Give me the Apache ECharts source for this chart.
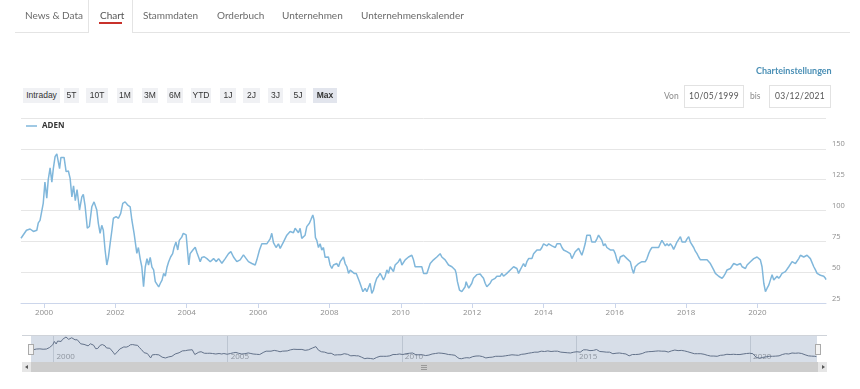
<!DOCTYPE html>
<html>
<head>
<meta charset="utf-8">
<script src="https://cdn.jsdelivr.net/npm/echarts@6/dist/echarts.min.js"></script>
<style>
  html,body{margin:0;padding:0;background:#fff;}
  #wrap{position:relative;width:860px;height:389px;overflow:hidden;}
  #c{position:absolute;left:0;top:0;width:860px;height:389px;}
  .abs{position:absolute;white-space:nowrap;z-index:5;}
  .tab{font-family:Lato,'Open Sans',sans-serif;font-size:10px;color:#6a6a6a;line-height:12px;top:9px;}
  .btn{font-family:'Liberation Sans',Arial,sans-serif;font-size:8.5px;color:#333;background:#f0f1f4;height:15px;line-height:15px;top:88px;text-align:center;}
  .lbl{font-family:Lato,'Open Sans',sans-serif;font-size:8.5px;color:#8a8a8a;line-height:10px;}
  .inp{border:1px solid #e2e2e2;height:21px;top:85px;font-family:Lato,'Open Sans',sans-serif;font-size:8.5px;color:#555;line-height:21px;text-align:center;letter-spacing:0.3px;background:#fff;}
</style>
</head>
<body>
<div id="wrap">
  <div id="c"></div>

  <!-- tabs -->
  <div class="abs" style="left:15px;top:32px;width:835px;height:1px;background:#e4e4e4;"></div>
  <div class="abs" style="left:88px;top:0;width:43px;height:33px;border-left:1px solid #e4e4e4;border-right:1px solid #e4e4e4;background:#fff;"></div>
  <div class="abs tab" style="left:25px;">News &amp; Data</div>
  <div class="abs tab" style="left:100px;color:#555;">Chart</div>
  <div class="abs" style="left:99px;top:22px;width:23px;height:2px;background:#c8312b;"></div>
  <div class="abs tab" style="left:143px;">Stammdaten</div>
  <div class="abs tab" style="left:217px;">Orderbuch</div>
  <div class="abs tab" style="left:282px;">Unternehmen</div>
  <div class="abs tab" style="left:361px;">Unternehmenskalender</div>

  <!-- range buttons -->
  <div class="abs btn" style="left:23px;width:37px;">Intraday</div>
  <div class="abs btn" style="left:64px;width:15px;">5T</div>
  <div class="abs btn" style="left:86px;width:22px;">10T</div>
  <div class="abs btn" style="left:117px;width:16px;">1M</div>
  <div class="abs btn" style="left:142px;width:16px;">3M</div>
  <div class="abs btn" style="left:167px;width:16px;">6M</div>
  <div class="abs btn" style="left:191px;width:20px;">YTD</div>
  <div class="abs btn" style="left:220px;width:16px;">1J</div>
  <div class="abs btn" style="left:243px;width:17px;">2J</div>
  <div class="abs btn" style="left:268px;width:15px;">3J</div>
  <div class="abs btn" style="left:290px;width:16px;">5J</div>
  <div class="abs btn" style="left:313px;width:24px;background:#e2e5ed;font-weight:bold;">Max</div>

  <!-- settings / dates -->
  <div class="abs" style="left:756px;top:65px;font-family:Lato,'Open Sans',sans-serif;font-size:9px;font-weight:bold;color:#4a8fb5;line-height:12px;">Charteinstellungen</div>
  <div class="abs lbl" style="left:664px;top:91px;">Von</div>
  <div class="abs inp" style="left:684px;width:58px;">10/05/1999</div>
  <div class="abs lbl" style="left:750px;top:91px;">bis</div>
  <div class="abs inp" style="left:769px;width:60px;">03/12/2021</div>

  <!-- navigator decorations -->
  <div class="abs" style="left:22px;top:335px;width:805px;height:1px;background:#cfd3d9;z-index:1;"></div>
  <div class="abs" style="left:28px;top:344px;width:4px;height:9px;background:#f4f4f4;border:1px solid #aaa;"></div>
  <div class="abs" style="left:815px;top:344px;width:4px;height:9px;background:#f4f4f4;border:1px solid #aaa;"></div>
  <div class="abs" style="left:22px;top:362px;width:805px;height:10px;background:#cdcdcd;"></div>
  <div class="abs" style="left:22px;top:362px;width:9px;height:10px;background:#e6e6e6;"></div>
  <div class="abs" style="left:818px;top:362px;width:9px;height:10px;background:#e6e6e6;"></div>
  <div class="abs" style="left:25px;top:365px;width:0;height:0;border-top:2px solid transparent;border-bottom:2px solid transparent;border-right:3px solid #555;"></div>
  <div class="abs" style="left:822px;top:365px;width:0;height:0;border-top:2px solid transparent;border-bottom:2px solid transparent;border-left:3px solid #555;"></div>
  <div class="abs" style="left:421px;top:365px;width:6px;height:1px;background:#999;"></div>
  <div class="abs" style="left:421px;top:367px;width:6px;height:1px;background:#999;"></div>
  <div class="abs" style="left:421px;top:369px;width:6px;height:1px;background:#999;"></div>
</div>

<script>
// ---- data ----
const seriesName = 'ADEN';
const dates = [
'1999-05-10','1999-07-05','1999-08-11','1999-09-14','1999-10-19','1999-11-03','1999-11-21','1999-12-24',
'2000-01-10','2000-01-29','2000-02-13','2000-03-03','2000-03-21','2000-04-05','2000-04-23','2000-05-11','2000-06-08','2000-06-22','2000-07-10','2000-07-24','2000-08-14','2000-09-06','2000-09-24','2000-10-12','2000-10-29','2000-11-16','2000-12-04','2000-12-29',
'2001-01-22','2001-02-06','2001-02-24','2001-03-19','2001-04-09','2001-05-04','2001-05-27','2001-06-24','2001-07-10','2001-07-28','2001-08-14','2001-08-30','2001-09-17','2001-10-05','2001-10-21','2001-11-08','2001-11-26','2001-12-11',
'2002-01-08','2002-02-01','2002-02-24','2002-03-17','2002-04-10','2002-05-04','2002-06-01','2002-06-18','2002-07-11','2002-08-08','2002-08-24','2002-09-11','2002-09-28','2002-10-16','2002-11-02','2002-11-20','2002-12-06','2002-12-23',
'2003-01-10','2003-01-27','2003-02-13','2003-03-03','2003-03-20','2003-04-06','2003-04-23','2003-05-10','2003-05-27','2003-06-13','2003-06-30','2003-07-20','2003-08-10','2003-08-24','2003-09-13','2003-10-01','2003-10-17','2003-11-11','2003-11-27','2003-12-26',
'2004-01-12','2004-01-22','2004-02-05','2004-03-04','2004-03-28','2004-04-14','2004-05-01','2004-05-18','2004-06-04','2004-06-28','2004-07-26','2004-08-29','2004-10-02','2004-10-30','2004-11-22','2004-12-26',
'2005-01-29','2005-03-04','2005-03-28','2005-04-24','2005-05-28','2005-07-01','2005-08-04','2005-09-01','2005-09-24','2005-10-29','2005-12-02','2005-12-19',
'2006-01-15','2006-02-08','2006-02-25','2006-03-31','2006-05-04','2006-05-21','2006-06-07','2006-07-04','2006-07-28','2006-08-15','2006-09-17','2006-10-22','2006-11-25','2006-12-29',
'2007-01-15','2007-02-18','2007-03-07','2007-03-24','2007-04-27','2007-05-14','2007-06-10','2007-06-24','2007-07-15','2007-07-28','2007-08-11','2007-08-25','2007-09-11','2007-09-28','2007-10-15','2007-11-01','2007-11-18','2007-12-05','2007-12-22',
'2008-01-08','2008-01-26','2008-02-11','2008-02-28','2008-03-17','2008-04-03','2008-04-20','2008-05-07','2008-05-24','2008-06-10','2008-06-28','2008-07-15','2008-08-01','2008-08-18','2008-09-11','2008-10-02','2008-10-19','2008-11-04','2008-11-22','2008-12-09',
'2009-01-01','2009-01-18','2009-02-04','2009-02-21','2009-03-10','2009-03-27','2009-04-13','2009-04-30','2009-05-17','2009-06-03','2009-06-20','2009-07-07','2009-07-25','2009-08-11','2009-08-28','2009-09-14','2009-10-01','2009-10-18','2009-11-04','2009-11-21','2009-12-08','2009-12-26',
'2010-01-12','2010-01-29','2010-02-15','2010-03-04','2010-03-21','2010-04-07','2010-04-24','2010-05-11','2010-05-28','2010-06-14','2010-07-01','2010-07-18','2010-08-04','2010-08-22','2010-09-08','2010-09-25','2010-10-12','2010-10-29','2010-11-15','2010-12-02','2010-12-19',
'2011-01-05','2011-01-22','2011-02-08','2011-02-25','2011-03-14','2011-03-31','2011-04-18','2011-05-05','2011-05-22','2011-06-08','2011-06-25','2011-07-12','2011-07-22','2011-08-04','2011-08-25','2011-09-18','2011-10-05','2011-10-22','2011-11-01','2011-11-14','2011-11-28','2011-12-12','2011-12-29',
'2012-01-15','2012-02-18','2012-03-24','2012-04-10','2012-04-27','2012-05-14','2012-05-31','2012-06-17','2012-07-04','2012-07-21','2012-08-07','2012-08-24','2012-09-11','2012-09-28','2012-10-15','2012-11-01','2012-11-18','2012-12-05','2012-12-22',
'2013-01-08','2013-01-26','2013-02-12','2013-03-01','2013-03-18','2013-04-04','2013-04-21','2013-05-08','2013-05-25','2013-06-11','2013-06-28','2013-07-15','2013-08-02','2013-08-19','2013-09-05','2013-09-22','2013-10-09','2013-10-26','2013-11-12','2013-11-29','2013-12-16',
'2014-01-02','2014-01-20','2014-02-06','2014-02-23','2014-03-12','2014-03-29','2014-04-15','2014-05-02','2014-05-19','2014-06-06','2014-06-22','2014-07-09','2014-07-26','2014-08-12','2014-08-29','2014-09-15','2014-10-02','2014-10-19','2014-11-05','2014-11-22','2014-12-10','2014-12-27',
'2015-01-12','2015-01-29','2015-02-15','2015-03-04','2015-03-21','2015-04-07','2015-04-24','2015-05-11','2015-05-28','2015-06-15','2015-07-02','2015-07-19','2015-08-05','2015-08-22','2015-09-08','2015-09-25','2015-10-12','2015-10-29','2015-11-16','2015-12-03','2015-12-20',
'2016-01-06','2016-01-23','2016-02-09','2016-02-26','2016-03-14','2016-03-31','2016-04-17','2016-05-05','2016-05-22','2016-06-08','2016-06-25','2016-07-12','2016-07-29','2016-08-15','2016-09-01','2016-09-18','2016-10-05','2016-10-22','2016-11-09','2016-11-26','2016-12-13','2016-12-30',
'2017-01-16','2017-02-02','2017-02-19','2017-03-08','2017-03-25','2017-04-11','2017-04-28','2017-05-15','2017-06-02','2017-06-19','2017-07-06','2017-07-23','2017-08-09','2017-08-26','2017-09-12','2017-09-29','2017-10-16','2017-11-03','2017-11-20','2017-12-07','2017-12-24',
'2018-01-10','2018-01-27','2018-02-13','2018-03-02','2018-03-19','2018-04-05','2018-04-22','2018-05-09','2018-05-27','2018-06-13','2018-06-30','2018-07-17','2018-08-03','2018-08-20','2018-09-06','2018-09-23','2018-10-10','2018-10-27','2018-11-13','2018-11-30','2018-12-17',
'2019-01-04','2019-01-21','2019-02-07','2019-02-24','2019-03-13','2019-03-30','2019-04-16','2019-05-03','2019-05-20','2019-06-06','2019-06-23','2019-07-11','2019-07-28','2019-08-14','2019-08-31','2019-09-17','2019-10-04','2019-10-21','2019-11-07','2019-11-24','2019-12-11','2019-12-28',
'2020-01-14','2020-01-31','2020-02-17','2020-03-06','2020-03-23','2020-04-09','2020-04-26','2020-05-13','2020-05-30','2020-06-16','2020-07-03','2020-07-20','2020-08-06','2020-08-23','2020-09-09','2020-09-26','2020-10-13','2020-10-31','2020-11-17','2020-12-04','2020-12-21',
'2021-01-07','2021-01-24','2021-02-10','2021-02-27','2021-03-16','2021-04-02','2021-04-19','2021-05-06','2021-05-23','2021-06-09','2021-06-26','2021-07-13','2021-07-31','2021-08-17','2021-09-03','2021-09-20','2021-10-07','2021-10-24','2021-11-10','2021-11-27','2021-12-03'
];
const prices = [
77.5,84,85,83,84,90,92,106,
123,110,125,134.5,123,134,143.6,146,134,143,142,143,131.5,132,126,111,120,108,117,100.4,
111,113,104,85.6,87,103,107,100.4,89.6,81.5,88,84,68,55.8,62,73.4,84,93.7,
95,93.7,97.7,105.8,107,104.6,103,92.3,81.5,65.3,70,61,54.4,38.2,54,61,55.8,62,
54,51.8,42.3,41,38,41,43.6,49,46.7,54,58.5,62.3,65,70,74.4,68,75.8,78.4,81.5,80.3,
81.5,55.8,65,68,70.2,66,62.3,58.5,62,62.5,61,58.5,61,58.5,61,57.2,
61,65,66.6,62.3,58.5,60,64,61,58.5,57,55.8,60,
68,73,74.4,73,77,81.5,74,70,73,69.3,74.4,80,83,82,
85.6,82,85.6,77.4,80,86.9,89.6,92.3,96.4,92.3,78,75.8,70,73,68,70,62,61,62.3,
55.8,53,55.8,54.4,57,54.4,58.5,60,62.3,57,54.4,49,51.7,50.4,49,49,48,42.3,38.2,34.2,
36.9,34.2,35.5,41,32.8,35.5,41,45,46.7,49,46.7,43.6,46.7,51.8,49,54.4,55.8,50.5,55.8,54.4,58.5,61,
55.8,54.4,60,58.5,62.3,62.3,63.7,60,54.4,55.8,54.4,55.8,54.4,49,50.4,49,53,57,58.5,60,61,
62.3,63.7,65,62.3,62.3,60,58.5,55.8,57,54.4,53,51.8,49,42.3,35.5,34.2,35.5,38.2,42.3,39.5,37,38.2,41,
45,48,48.5,46.7,45,41,38.2,39.5,41,43.6,42.3,45,46.7,48,46.7,49,46.7,46.7,49,
50.4,51.8,53,54.4,54.4,53,49,51.8,54.4,57,54.4,58.5,61,62.3,61,65,66.6,68,69.3,68,70,
73,74.4,71.3,73,74.4,71.3,71.3,70,73,74.4,73,70,68,69.3,66.6,68,65,61,63.7,66.6,68,69.3,
70,63.7,68,73,80,81.5,80,74.4,75.8,74.4,77,80,81.5,75.8,71.3,73,70,71.3,68,69.3,68,
65,60,57,62.3,61,63.7,65,61,60,58.5,53,49,54.4,55.8,57,55.8,58.5,57,58.5,61,65,68,
70,70.5,70,71.3,70,73,75.8,74.4,71.3,73,71.3,73,71.3,68.5,71.3,74.4,75.8,78.8,74.4,75.8,74.4,
77,78.8,74.4,73,70,67,65,62.3,60,58.5,60,58.5,60,58.5,57,55.8,51.8,49,48,46.7,48,
45,46.7,49,51.8,51.8,53,52.5,57,58.5,55.8,54.4,57,54.4,55.8,53,55.8,57,58.5,60,61,62.3,62.3,
61,60,54.4,41,34.2,37,39.5,41,48,43.6,45,46.7,45,46.7,49,47.5,50.4,49,54.4,55.8,58.5,
60,57,58.5,61,63.7,65,62.3,62.3,63.7,62.3,61,61,54.4,51.8,49,49,47.5,47.5,46.7,45,44
];
const yTicks = [25, 50, 75, 100, 125, 150, 175];
const xTickYears = [2000, 2002, 2004, 2006, 2008, 2010, 2012, 2014, 2016, 2018, 2020];
const navTickYears = [2000, 2005, 2010, 2015, 2020];

// ---- chart ----
const chart = echarts.init(document.getElementById('c'), null, {renderer: 'canvas'});
const toMs = s => { const p = s.split('-').map(Number); return Date.UTC(p[0], p[1] - 1, p[2]); };
const seriesData = dates.map((d, i) => [toMs(d), prices[i]]);
const yearTs = y => Date.UTC(y, 0, 1);
const xTicks = xTickYears.map(yearTs);
const navTicks = navTickYears.map(yearTs);
const yearFmt = v => String(new Date(v).getUTCFullYear());
const xMin = toMs(dates[0]);
const xMax = toMs(dates[dates.length - 1]);
const FONT = "'Open Sans', sans-serif";

chart.setOption({
  animation: false,
  backgroundColor: 'transparent',
  textStyle: {fontFamily: FONT},
  legend: {
    show: true, left: 26, top: 122, padding: 0, itemGap: 10, itemWidth: 11, itemHeight: 1.5,
    icon: 'rect', itemStyle: {color: '#80b7db'},
    textStyle: {fontFamily: FONT, fontSize: 8, fontWeight: 'bold', color: '#333'},
    data: [seriesName]
  },
  grid: [
    {left: 21, top: 118, width: 805, height: 185, containLabel: false},
    {left: 31, top: 335, width: 786, height: 27, show: true, backgroundColor: '#d7dee8', borderWidth: 0}
  ],
  xAxis: [
    {
      type: 'value', gridIndex: 0, min: xMin, max: xMax, scale: true,
      axisLine: {show: true, onZero: false, lineStyle: {color: '#ccd6eb', width: 1}},
      axisTick: {show: true, customValues: xTicks, length: 5, lineStyle: {color: '#ccd6eb'}},
      axisLabel: {customValues: xTicks, formatter: yearFmt, color: '#8e8e8e', fontSize: 8, margin: 6, fontFamily: FONT},
      splitLine: {show: false}
    },
    {
      type: 'value', gridIndex: 1, min: xMin, max: xMax, scale: true,
      axisLine: {show: false, onZero: false},
      axisTick: {show: false, customValues: navTicks},
      axisLabel: {customValues: navTicks, formatter: yearFmt, inside: true, margin: 1, align: 'left', padding: [0, 0, 0, 3], color: '#8e959f', fontSize: 8, fontFamily: FONT},
      splitLine: {show: true, lineStyle: {color: '#bcc5d1', width: 1}}
    }
  ],
  yAxis: [
    {
      type: 'value', gridIndex: 0, position: 'right', min: yTicks[0], max: yTicks[yTicks.length - 1], interval: 25,
      axisLine: {show: false}, axisTick: {show: false},
      axisLabel: {showMaxLabel: false, margin: 6, align: 'left', verticalAlign: 'bottom', color: '#8e8e8e', fontSize: 7.5, fontFamily: FONT, lineHeight: 9},
      splitLine: {show: true, lineStyle: {color: '#e6e6e6', width: 1}}
    },
    {
      type: 'value', gridIndex: 1, show: false,
      min: v => v.min - 15.5, max: v => v.max + 10.3,
      splitLine: {show: false}
    }
  ],
  series: [
    {
      name: seriesName, type: 'line', xAxisIndex: 0, yAxisIndex: 0, data: seriesData,
      showSymbol: false, symbol: 'none', lineStyle: {color: '#80b7db', width: 1.5}, itemStyle: {color: '#80b7db'}
    },
    {
      name: 'nav', type: 'line', xAxisIndex: 1, yAxisIndex: 1, data: seriesData, silent: true,
      showSymbol: false, symbol: 'none', lineStyle: {color: '#63728a', width: 1}
    }
  ]
});
</script>
</body>
</html>
